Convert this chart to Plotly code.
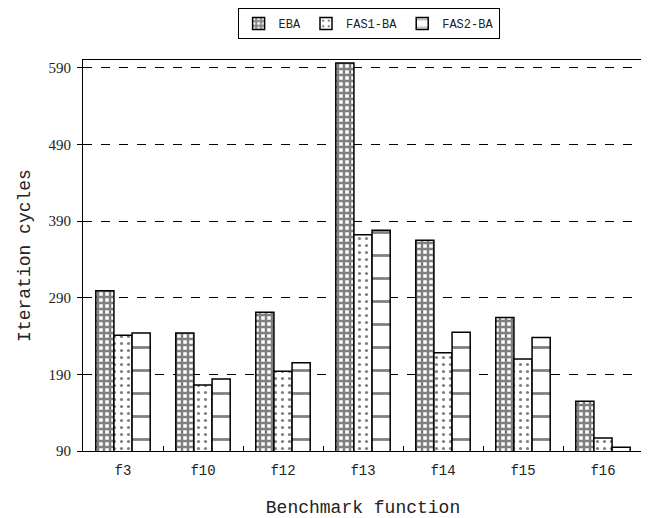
import plotly.graph_objects as go

categories = ["f3", "f10", "f12", "f13", "f14", "f15", "f16"]
eba = [299, 244, 271, 596, 365, 264, 155]
fas1 = [241, 176, 194, 372, 218, 210, 107]
fas2 = [244, 184, 205, 378, 245, 238, 95]
y_ticks = [90, 190, 290, 390, 490, 590]

FONT = "Liberation Mono"

fig = go.Figure()
fig.add_trace(go.Bar(
    name="EBA", x=categories, y=eba,
    marker=dict(color="white", line=dict(color="black", width=1.5),
                pattern=dict(shape="+", size=6, solidity=0.65, fgcolor="black", bgcolor="white")),
))
fig.add_trace(go.Bar(
    name="FAS1-BA", x=categories, y=fas1,
    marker=dict(color="white", line=dict(color="black", width=1.5),
                pattern=dict(shape=".", size=7, solidity=0.16, fgcolor="black", bgcolor="white")),
))
fig.add_trace(go.Bar(
    name="FAS2-BA", x=categories, y=fas2,
    marker=dict(color="white", line=dict(color="black", width=1.5),
                pattern=dict(shape="-", size=23, solidity=0.12, fgcolor="black", bgcolor="white")),
))

# page body has an 8px default margin: figure is sized/offset to compensate
fig.update_layout(
    width=641, height=510,
    margin=dict(l=75, r=6, t=52, b=67, autoexpand=False),
    paper_bgcolor="white", plot_bgcolor="white",
    barmode="group", bargap=0.32, bargroupgap=0,
    font=dict(family=FONT, size=15, color="#222"),
    legend=dict(orientation="h", x=0.51, xanchor="center", y=1.0, yanchor="top",
                yref="container", bordercolor="black", borderwidth=1,
                font=dict(size=12), itemwidth=30, tracegroupgap=0),
    xaxis=dict(
        title=dict(text="Benchmark function", standoff=24),
        automargin=False,
        showline=True, linecolor="black", linewidth=1, mirror=True,
        ticks="inside", tickson="boundaries", ticklen=5, tickcolor="black",
        showgrid=False, tickfont=dict(size=14), ticklabelstandoff=6,
    ),
    yaxis=dict(
        title=dict(text="Iteration cycles", standoff=13),
        automargin=False,
        range=[90, 600], tickvals=y_ticks, ticktext=[str(v) for v in y_ticks],
        showline=True, linecolor="black", linewidth=1, mirror=True,
        ticks="outside", ticklen=5, tickcolor="black",
        tickfont=dict(family="Liberation Serif", size=15),
        ticklabelstandoff=3,
        showgrid=True, gridcolor="black", griddash="dash", gridwidth=1,
        zeroline=False,
    ),
)
fig.write_html("out.html")
